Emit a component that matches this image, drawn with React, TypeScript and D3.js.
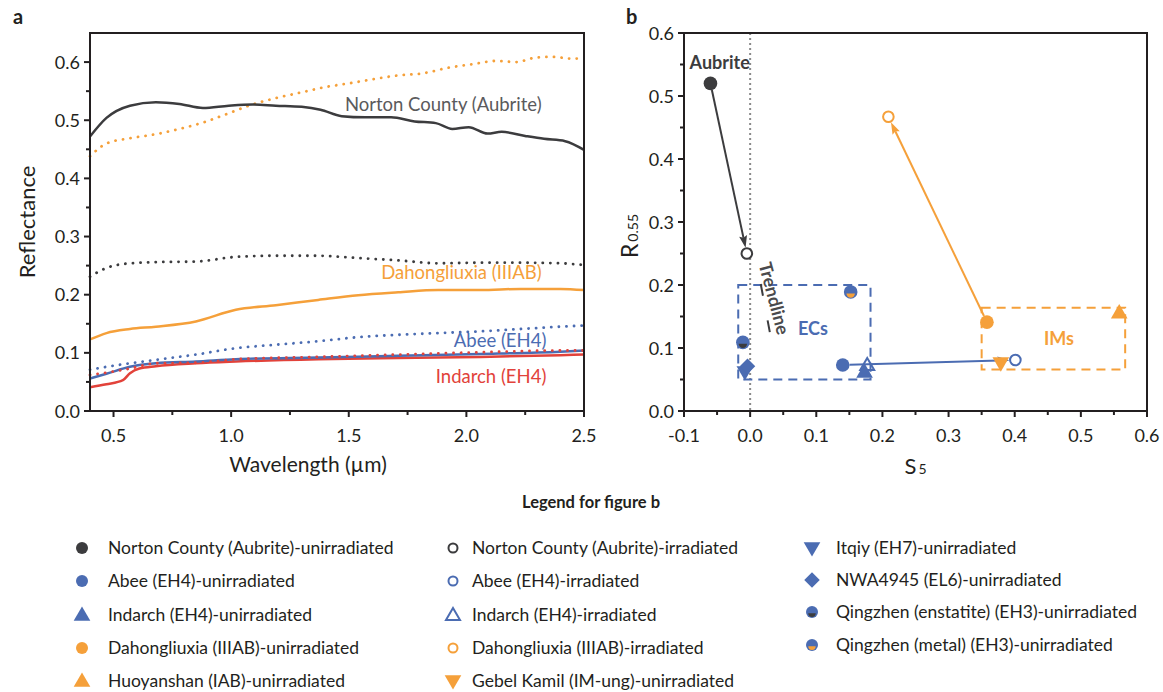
import { useEffect } from 'react';
import * as d3 from 'd3';

// ---- panel a: reflectance spectra ----
const W_NC = [0.40, 0.47, 0.57, 0.68, 0.78, 0.88, 0.99, 1.09, 1.19, 1.30, 1.38, 1.47, 1.57, 1.68, 1.78, 1.87, 1.94, 2.01, 2.09, 2.15, 2.25, 2.33, 2.42, 2.50];
const NORTON_UNIRR = [0.472, 0.504, 0.525, 0.531, 0.528, 0.521, 0.525, 0.527, 0.525, 0.523, 0.518, 0.507, 0.505, 0.505, 0.498, 0.495, 0.485, 0.488, 0.477, 0.480, 0.473, 0.468, 0.464, 0.449];

const W_DH_IRR = [0.40, 0.47, 0.57, 0.68, 0.78, 0.88, 0.99, 1.09, 1.19, 1.30, 1.40, 1.51, 1.61, 1.71, 1.82, 1.92, 2.02, 2.13, 2.21, 2.30, 2.37, 2.44, 2.50];
const DAHONG_IRR = [0.438, 0.460, 0.469, 0.476, 0.485, 0.496, 0.512, 0.527, 0.538, 0.548, 0.557, 0.564, 0.571, 0.577, 0.581, 0.590, 0.596, 0.602, 0.600, 0.608, 0.609, 0.606, 0.606];

const W_MID = [0.40, 0.47, 0.57, 0.68, 0.85, 1.02, 1.19, 1.37, 1.54, 1.71, 1.88, 2.06, 2.23, 2.40, 2.50];
const NORTON_IRR = [0.231, 0.246, 0.254, 0.256, 0.257, 0.265, 0.267, 0.267, 0.263, 0.259, 0.254, 0.255, 0.255, 0.254, 0.251];
const DAHONG_UNIRR = [0.123, 0.134, 0.141, 0.145, 0.154, 0.174, 0.182, 0.191, 0.199, 0.204, 0.208, 0.208, 0.210, 0.210, 0.208];
const ABEE_IRR = [0.071, 0.076, 0.082, 0.088, 0.097, 0.108, 0.114, 0.120, 0.127, 0.131, 0.134, 0.137, 0.141, 0.145, 0.147];

const W_LOW = [0.40, 0.47, 0.57, 0.68, 0.85, 1.02, 1.37, 1.71, 2.06, 2.40, 2.50];
const ABEE_UNIRR = [0.056, 0.064, 0.076, 0.082, 0.085, 0.089, 0.092, 0.095, 0.098, 0.102, 0.104];
const INDARCH_IRR = [0.062, 0.066, 0.073, 0.082, 0.083, 0.089, 0.093, 0.097, 0.101, 0.104, 0.104];

const W_IND = [0.40, 0.47, 0.54, 0.57, 0.61, 0.68, 0.85, 1.02, 1.37, 1.71, 2.06, 2.40, 2.50];
const INDARCH_UNIRR = [0.041, 0.046, 0.053, 0.065, 0.073, 0.077, 0.082, 0.085, 0.089, 0.091, 0.093, 0.096, 0.097];

const A_X_TICKS = [0.5, 1.0, 1.5, 2.0, 2.5];
const A_X_MINOR = [0.75, 1.25, 1.75, 2.25];
const A_Y_TICKS = [0, 0.1, 0.2, 0.3, 0.4, 0.5, 0.6];
const A_Y_MINOR = [0.05, 0.15, 0.25, 0.35, 0.45, 0.55];

// ---- panel b: S5 vs R0.55 ----
// [S5, R0.55]
const NORTON_B = { unirr: [-0.06, 0.52], irr: [-0.005, 0.25] };
const DAHONG_B = { unirr: [0.358, 0.141], irr: [0.209, 0.467] };
const ABEE_B = { unirr: [0.14, 0.073], irr: [0.401, 0.081] };
const INDARCH_B = { unirr: [0.173, 0.062], irr: [0.177, 0.073] };
const HUOYANSHAN_B = [0.558, 0.156];
const GEBEL_B = [0.379, 0.076];
const ITQIY_B = [-0.008, 0.062];
const NWA4945_B = [-0.004, 0.071];
const QZ_ENSTATITE_B = [-0.011, 0.109];
const QZ_METAL_B = [0.152, 0.189];

const ECS_BOX = [-0.018, 0.182, 0.05, 0.2];
const IMS_BOX = [0.35, 0.567, 0.066, 0.164];

const B_X_TICKS = [-0.1, 0, 0.1, 0.2, 0.3, 0.4, 0.5, 0.6];
const B_X_MINOR = [-0.05, 0.05, 0.15, 0.25, 0.35, 0.45, 0.55];
const B_Y_TICKS = [0, 0.1, 0.2, 0.3, 0.4, 0.5, 0.6];
const B_Y_MINOR = [0.05, 0.15, 0.25, 0.35, 0.45, 0.55];

const C_DARK = '#3c3c3e';
const C_BLUE = '#4b6cb2';
const C_ORANGE = '#f5a03a';
const C_RED = '#e2423a';
const C_AXIS = '#231f20';
const FONT = 'Lato, "Open Sans", sans-serif';

const A_LEFT = 90, A_RIGHT = 584, TOP = 33, BOTTOM = 411;
const B_LEFT = 684, B_RIGHT = 1147;

const xA = d3.scaleLinear().domain([0.4, 2.5]).range([A_LEFT, A_RIGHT]);
const yA = d3.scaleLinear().domain([0, 0.65]).range([BOTTOM, TOP]);
const xB = d3.scaleLinear().domain([-0.1, 0.6]).range([B_LEFT, B_RIGHT]);
const yB = d3.scaleLinear().domain([0, 0.6]).range([BOTTOM, TOP]);

const curves = [
  { w: W_DH_IRR, v: DAHONG_IRR, color: C_ORANGE, dotted: true },
  { w: W_MID, v: NORTON_IRR, color: C_DARK, dotted: true },
  { w: W_MID, v: DAHONG_UNIRR, color: C_ORANGE, dotted: false },
  { w: W_MID, v: ABEE_IRR, color: C_BLUE, dotted: true },
  { w: W_IND, v: INDARCH_UNIRR, color: C_RED, dotted: false },
  { w: W_LOW, v: ABEE_UNIRR, color: C_BLUE, dotted: false },
  { w: W_LOW, v: INDARCH_IRR, color: C_RED, dotted: true },
  { w: W_NC, v: NORTON_UNIRR, color: C_DARK, dotted: false },
];

const lineA = d3.line<[number, number]>()
  .x(d => xA(d[0]))
  .y(d => yA(d[1]))
  .curve(d3.curveMonotoneX);

const sym = (type: d3.SymbolType, size: number) => d3.symbol().type(type).size(size)() || '';
const TRI_UP = sym(d3.symbolTriangle, 120);
const DIAMOND = sym(d3.symbolSquare, 120);

type Kind = 'dot' | 'ring' | 'up' | 'upOpen' | 'down' | 'diamond' | 'half';

function Marker({ x, y, kind, color, r = 6.8, accent }: { x: number; y: number; kind: Kind; color: string; r?: number; accent?: string }) {
  switch (kind) {
    case 'dot':
      return <circle cx={x} cy={y} r={r} fill={color} />;
    case 'ring':
      return <circle cx={x} cy={y} r={r - 1.5} fill="#fff" stroke={color} strokeWidth={2} />;
    case 'up':
      return <path d={TRI_UP} transform={`translate(${x},${y + 1})`} fill={color} />;
    case 'upOpen':
      return <path d={sym(d3.symbolTriangle, 85)} transform={`translate(${x},${y + 1})`} fill="none" stroke={color} strokeWidth={2} />;
    case 'down':
      return <path d={TRI_UP} transform={`translate(${x},${y - 1}) rotate(180)`} fill={color} />;
    case 'diamond':
      return <path d={DIAMOND} transform={`translate(${x},${y}) rotate(45)`} fill={color} />;
    case 'half': {
      const hr = r * 0.62;
      const cy = y + r * 0.22;
      return (
        <g>
          <circle cx={x} cy={y} r={r} fill={color} />
          <path d={`M${x - hr},${cy} A${hr},${hr} 0 0 0 ${x + hr},${cy} Z`} fill={accent} />
        </g>
      );
    }
  }
}

function Arrow({ from, to, color, r0 = 6.8, r1 = 6 }: { from: number[]; to: number[]; color: string; r0?: number; r1?: number }) {
  const x0 = xB(from[0]), y0 = yB(from[1]);
  const x1 = xB(to[0]), y1 = yB(to[1]);
  const len = Math.hypot(x1 - x0, y1 - y0);
  const ux = (x1 - x0) / len, uy = (y1 - y0) / len;
  const sx = x0 + ux * r0, sy = y0 + uy * r0;
  const ex = x1 - ux * r1, ey = y1 - uy * r1;
  const hl = 12, hw = 4;
  const bx = ex - ux * hl, by = ey - uy * hl;
  const head = `M${ex},${ey} L${bx - uy * hw},${by + ux * hw} L${bx + ux * 2},${by + uy * 2} L${bx + uy * hw},${by - ux * hw} Z`;
  return (
    <g>
      <line x1={sx} y1={sy} x2={bx + ux * 2} y2={by + uy * 2} stroke={color} strokeWidth={2} />
      <path d={head} fill={color} />
    </g>
  );
}

const fmt1 = (v: number) => d3.format('.1f')(v).replace('−', '-');

type LegendItem = { label: string; kind: Kind; color: string; accent?: string };
const LEGEND_COL1: LegendItem[] = [
  { label: 'Norton County (Aubrite)-unirradiated', kind: 'dot', color: C_DARK },
  { label: 'Abee (EH4)-unirradiated', kind: 'dot', color: C_BLUE },
  { label: 'Indarch (EH4)-unirradiated', kind: 'up', color: C_BLUE },
  { label: 'Dahongliuxia (IIIAB)-unirradiated', kind: 'dot', color: C_ORANGE },
  { label: 'Huoyanshan (IAB)-unirradiated', kind: 'up', color: C_ORANGE },
];
const LEGEND_COL2: LegendItem[] = [
  { label: 'Norton County (Aubrite)-irradiated', kind: 'ring', color: C_DARK },
  { label: 'Abee (EH4)-irradiated', kind: 'ring', color: C_BLUE },
  { label: 'Indarch (EH4)-irradiated', kind: 'upOpen', color: C_BLUE },
  { label: 'Dahongliuxia (IIIAB)-irradiated', kind: 'ring', color: C_ORANGE },
  { label: 'Gebel Kamil (IM-ung)-unirradiated', kind: 'down', color: C_ORANGE },
];
const LEGEND_COL3: LegendItem[] = [
  { label: 'Itqiy (EH7)-unirradiated', kind: 'down', color: C_BLUE },
  { label: 'NWA4945 (EL6)-unirradiated', kind: 'diamond', color: C_BLUE },
  { label: 'Qingzhen (enstatite) (EH3)-unirradiated', kind: 'half', color: C_BLUE, accent: C_DARK },
  { label: 'Qingzhen (metal) (EH3)-unirradiated', kind: 'half', color: C_BLUE, accent: C_ORANGE },
];
const ROWS_12 = [548, 581, 615, 648, 681];
const ROWS_3 = [548, 580, 612, 645];

export default function App() {
  useEffect(() => {
    document.body.style.margin = '0';
  }, []);

  const pb = (p: number[]) => ({ x: xB(p[0]), y: yB(p[1]) });

  return (
    <svg width={1163} height={692} style={{ display: 'block', fontFamily: FONT }}>
      <rect width={1163} height={692} fill="#fff" />

      {/* ================= panel a ================= */}
      <text x={13} y={24} fontSize={20} fontWeight={700} fill={C_AXIS}>a</text>
      <g>
        {curves.map((c, i) => (
          <path
            key={i}
            d={lineA(c.w.map((w, j) => [w, c.v[j]] as [number, number])) || ''}
            fill="none"
            stroke={c.color}
            strokeWidth={c.dotted ? 2.8 : 2.5}
            strokeDasharray={c.dotted ? '0.1 7.5' : undefined}
            strokeLinecap={c.dotted ? 'round' : 'butt'}
          />
        ))}
        <rect x={A_LEFT} y={TOP} width={A_RIGHT - A_LEFT} height={BOTTOM - TOP} fill="none" stroke={C_AXIS} strokeWidth={2} />
        {A_Y_TICKS.map(t => (
          <g key={t}>
            <line x1={A_LEFT - 6} x2={A_LEFT} y1={yA(t)} y2={yA(t)} stroke={C_AXIS} strokeWidth={2} />
            <text x={A_LEFT - 10} y={yA(t) + 6.5} fontSize={18} textAnchor="end" fill={C_AXIS}>{fmt1(t)}</text>
          </g>
        ))}
        {A_Y_MINOR.map(t => (
          <line key={t} x1={A_LEFT - 4} x2={A_LEFT} y1={yA(t)} y2={yA(t)} stroke={C_AXIS} strokeWidth={2} />
        ))}
        {A_X_TICKS.map(t => (
          <g key={t}>
            <line x1={xA(t)} x2={xA(t)} y1={BOTTOM} y2={BOTTOM + 6} stroke={C_AXIS} strokeWidth={2} />
            <text x={xA(t)} y={442} fontSize={18} textAnchor="middle" fill={C_AXIS}>{fmt1(t)}</text>
          </g>
        ))}
        {A_X_MINOR.map(t => (
          <line key={t} x1={xA(t)} x2={xA(t)} y1={BOTTOM} y2={BOTTOM + 4} stroke={C_AXIS} strokeWidth={2} />
        ))}
        <text x={308} y={472} fontSize={21} textAnchor="middle" fill={C_AXIS}>Wavelength (µm)</text>
        <text transform="translate(35,222) rotate(-90)" fontSize={22} textAnchor="middle" fill={C_AXIS}>Reflectance</text>

        <text x={xA(2.32)} y={111} fontSize={18.5} textAnchor="end" fill="#5a5a5c">Norton County (Aubrite)</text>
        <text x={xA(2.32)} y={279} fontSize={18.5} textAnchor="end" fill={C_ORANGE}>Dahongliuxia (IIIAB)</text>
        <text x={xA(2.34)} y={347} fontSize={18.5} textAnchor="end" fill={C_BLUE}>Abee (EH4)</text>
        <text x={xA(2.34)} y={383} fontSize={18.5} textAnchor="end" fill={C_RED}>Indarch (EH4)</text>
      </g>

      {/* ================= panel b ================= */}
      <text x={626} y={24} fontSize={20} fontWeight={700} fill={C_AXIS}>b</text>
      <g>
        <line x1={xB(0)} x2={xB(0)} y1={TOP} y2={BOTTOM} stroke="#8a8a8a" strokeWidth={2} strokeDasharray="2 3" />

        <rect x={xB(ECS_BOX[0])} y={yB(ECS_BOX[3])} width={xB(ECS_BOX[1]) - xB(ECS_BOX[0])} height={yB(ECS_BOX[2]) - yB(ECS_BOX[3])}
          fill="none" stroke={C_BLUE} strokeWidth={2} strokeDasharray="9 6" />
        <rect x={xB(IMS_BOX[0])} y={yB(IMS_BOX[3])} width={xB(IMS_BOX[1]) - xB(IMS_BOX[0])} height={yB(IMS_BOX[2]) - yB(IMS_BOX[3])}
          fill="none" stroke={C_ORANGE} strokeWidth={2} strokeDasharray="9 6" />
        <text x={xB(0.095)} y={335} fontSize={18} fontWeight={700} textAnchor="middle" fill={C_BLUE}>ECs</text>
        <text x={xB(0.467)} y={345} fontSize={18} fontWeight={700} textAnchor="middle" fill={C_ORANGE}>IMs</text>
        <text transform={`translate(${xB(0.027)},300) rotate(75)`} fontSize={18} fontWeight={700} textAnchor="middle" fill="#4a4a4c">Trendline</text>
        <line x1={xB(0.016)} y1={284} x2={xB(0.032)} y2={340} stroke="#3c3c3e" strokeWidth={2} strokeDasharray="12 25" />
        <text x={xB(-0.046)} y={69} fontSize={18} fontWeight={700} textAnchor="middle" fill={C_DARK}>Aubrite</text>

        <Arrow from={NORTON_B.unirr} to={NORTON_B.irr} color={C_DARK} />
        <Arrow from={DAHONG_B.unirr} to={DAHONG_B.irr} color={C_ORANGE} />
        <Arrow from={ABEE_B.unirr} to={ABEE_B.irr} color={C_BLUE} />

        <Marker {...pb(NORTON_B.unirr)} kind="dot" color={C_DARK} />
        <Marker {...pb(NORTON_B.irr)} kind="ring" color={C_DARK} />
        <Marker {...pb(DAHONG_B.unirr)} kind="dot" color={C_ORANGE} />
        <Marker {...pb(DAHONG_B.irr)} kind="ring" color={C_ORANGE} />
        <Marker {...pb(HUOYANSHAN_B)} kind="up" color={C_ORANGE} />
        <Marker {...pb(GEBEL_B)} kind="down" color={C_ORANGE} />
        <Marker {...pb(ABEE_B.irr)} kind="ring" color={C_BLUE} />
        <Marker {...pb(ABEE_B.unirr)} kind="dot" color={C_BLUE} />
        <Marker {...pb(INDARCH_B.unirr)} kind="up" color={C_BLUE} />
        <Marker {...pb(INDARCH_B.irr)} kind="upOpen" color={C_BLUE} />
        <Marker {...pb(ITQIY_B)} kind="down" color={C_BLUE} />
        <Marker {...pb(NWA4945_B)} kind="diamond" color={C_BLUE} />
        <Marker {...pb(QZ_ENSTATITE_B)} kind="half" color={C_BLUE} accent={C_DARK} />
        <Marker {...pb(QZ_METAL_B)} kind="half" color={C_BLUE} accent={C_ORANGE} />

        <rect x={B_LEFT} y={TOP} width={B_RIGHT - B_LEFT} height={BOTTOM - TOP} fill="none" stroke={C_AXIS} strokeWidth={2} />
        {B_Y_TICKS.map(t => (
          <g key={t}>
            <line x1={B_LEFT - 6} x2={B_LEFT} y1={yB(t)} y2={yB(t)} stroke={C_AXIS} strokeWidth={2} />
            <text x={B_LEFT - 10} y={yB(t) + 6.5} fontSize={18} textAnchor="end" fill={C_AXIS}>{fmt1(t)}</text>
          </g>
        ))}
        {B_Y_MINOR.map(t => (
          <line key={t} x1={B_LEFT - 4} x2={B_LEFT} y1={yB(t)} y2={yB(t)} stroke={C_AXIS} strokeWidth={2} />
        ))}
        {B_X_TICKS.map(t => (
          <g key={t}>
            <line x1={xB(t)} x2={xB(t)} y1={BOTTOM} y2={BOTTOM + 6} stroke={C_AXIS} strokeWidth={2} />
            <text x={xB(t)} y={442} fontSize={18} textAnchor="middle" fill={C_AXIS}>{fmt1(t)}</text>
          </g>
        ))}
        {B_X_MINOR.map(t => (
          <line key={t} x1={xB(t)} x2={xB(t)} y1={BOTTOM} y2={BOTTOM + 4} stroke={C_AXIS} strokeWidth={2} />
        ))}
        <text x={xB(0.25)} y={474} fontSize={22} textAnchor="middle" fill={C_AXIS}>S<tspan fontSize={14} dx={2}>5</tspan></text>
        <text transform="translate(638,236) rotate(-90)" fontSize={23} textAnchor="middle" fill={C_AXIS}>R<tspan fontSize={14} dx={2}>0.55</tspan></text>
      </g>

      {/* ================= legend ================= */}
      <text x={591} y={508} fontSize={16.5} fontWeight={700} textAnchor="middle" fill={C_AXIS}>Legend for figure b</text>
      {LEGEND_COL1.map((d, i) => (
        <g key={d.label}>
          <Marker x={82} y={ROWS_12[i]} kind={d.kind} color={d.color} accent={d.accent} r={6} />
          <text x={108} y={ROWS_12[i] + 6} fontSize={17.5} fill={C_AXIS}>{d.label}</text>
        </g>
      ))}
      {LEGEND_COL2.map((d, i) => (
        <g key={d.label}>
          <Marker x={453} y={ROWS_12[i]} kind={d.kind} color={d.color} accent={d.accent} r={6} />
          <text x={472} y={ROWS_12[i] + 6} fontSize={17.5} fill={C_AXIS}>{d.label}</text>
        </g>
      ))}
      {LEGEND_COL3.map((d, i) => (
        <g key={d.label}>
          <Marker x={812} y={ROWS_3[i]} kind={d.kind} color={d.color} accent={d.accent} r={6} />
          <text x={836} y={ROWS_3[i] + 6} fontSize={17.5} fill={C_AXIS}>{d.label}</text>
        </g>
      ))}
    </svg>
  );
}
